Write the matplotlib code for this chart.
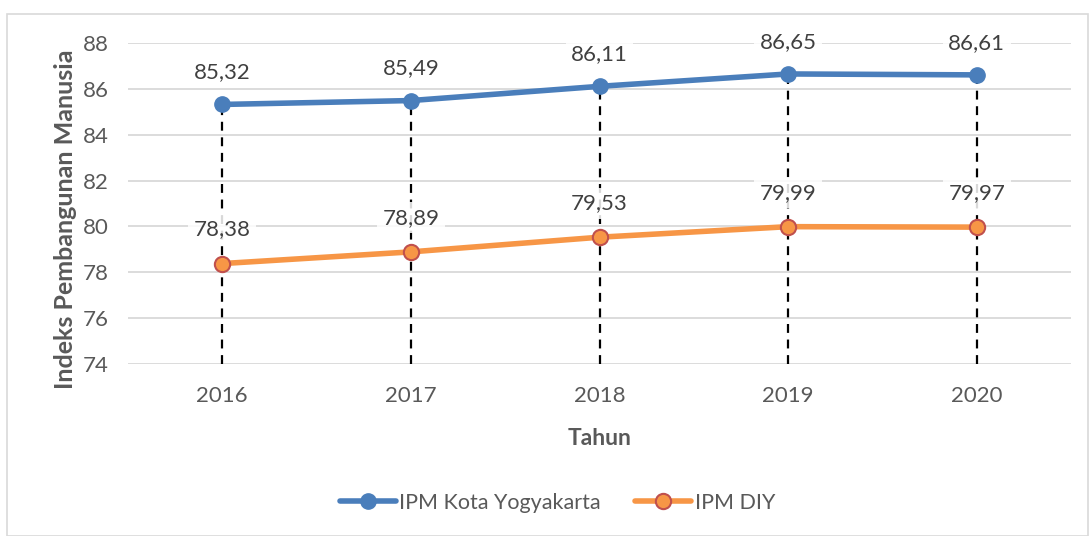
import matplotlib
matplotlib.use("Agg")
import matplotlib.pyplot as plt
from matplotlib.patches import Rectangle

years = ["2016", "2017", "2018", "2019", "2020"]
ipm_kota = [85.32, 85.49, 86.11, 86.65, 86.61]
ipm_diy = [78.38, 78.89, 79.53, 79.99, 79.97]
yticks = [74, 76, 78, 80, 82, 84, 86, 88]

plt.rcParams['font.family'] = ['Lato', 'DejaVu Sans']

fig = plt.figure(figsize=(10.89, 5.36), dpi=100)
fig.patches.append(Rectangle((7/1089, 0), 1 - 7/1089 - 0.001, 1 - 14/536, transform=fig.transFigure,
                             fill=False, edgecolor='#D9D9D9', linewidth=1.2))
ax = fig.add_axes([128/1089, 1 - 364/536, (1071 - 128)/1089, (364 - 43)/536])

x = list(range(len(years)))
blue = '#4A7EBB'
orange = '#F79646'

for i in x:
    ax.plot([i, i], [74, ipm_kota[i]], color='black', linestyle=(0, (4, 3)), linewidth=1.6, zorder=2)

ax.plot(x, ipm_kota, color=blue, linewidth=4, marker='o', markersize=11,
        markerfacecolor=blue, markeredgecolor=blue, label='IPM Kota Yogyakarta', zorder=3,
        solid_capstyle='round')
ax.plot(x, ipm_diy, color=orange, linewidth=4, marker='o', markersize=11,
        markerfacecolor=orange, markeredgecolor='#C0504D', markeredgewidth=1.5,
        label='IPM DIY', zorder=3, solid_capstyle='round')

def fmt(v):
    return f"{v:.2f}".replace('.', ',')

for i in x:
    ax.annotate(fmt(ipm_kota[i]), (i, ipm_kota[i]), xytext=(0, 32), textcoords='offset pixels',
                ha='center', va='center', fontsize=16, color='#404040', zorder=4,
                bbox=dict(boxstyle='square,pad=0.25', facecolor='white', edgecolor='none', alpha=0.85))
    ax.annotate(fmt(ipm_diy[i]), (i, ipm_diy[i]), xytext=(0, 34), textcoords='offset pixels',
                ha='center', va='center', fontsize=16, color='#404040', zorder=4,
                bbox=dict(boxstyle='square,pad=0.25', facecolor='white', edgecolor='none', alpha=0.85))

ax.set_xlim(-0.5, 4.5)
ax.set_ylim(74, 88)
ax.set_yticks(yticks)
ax.set_xticks(x)
ax.set_xticklabels(years)
ax.grid(axis='y', color='#D9D9D9', linewidth=1.3)
ax.set_axisbelow(True)
for s in ax.spines.values():
    s.set_visible(False)
ax.tick_params(axis='both', length=0, labelsize=16, labelcolor='#595959')
ax.tick_params(axis='y', pad=14)
ax.tick_params(axis='x', pad=16)

ax.set_xlabel('Tahun', fontsize=16.5, fontweight='bold', color='#595959', labelpad=16)
ax.set_ylabel('Indeks Pembangunan Manusia', fontsize=18, fontweight='bold', color='#595959', labelpad=8)
ax.yaxis.set_label_coords(-0.054, 0.45)

leg = fig.legend(loc='center', bbox_to_anchor=(0.512, 1 - 503/536), ncol=2, frameon=False,
                 fontsize=15.5, handlelength=2.6, columnspacing=1.6, handletextpad=0.15)
for t in leg.get_texts():
    t.set_color('#595959')

fig.savefig('out.png', dpi=100, facecolor='white')
